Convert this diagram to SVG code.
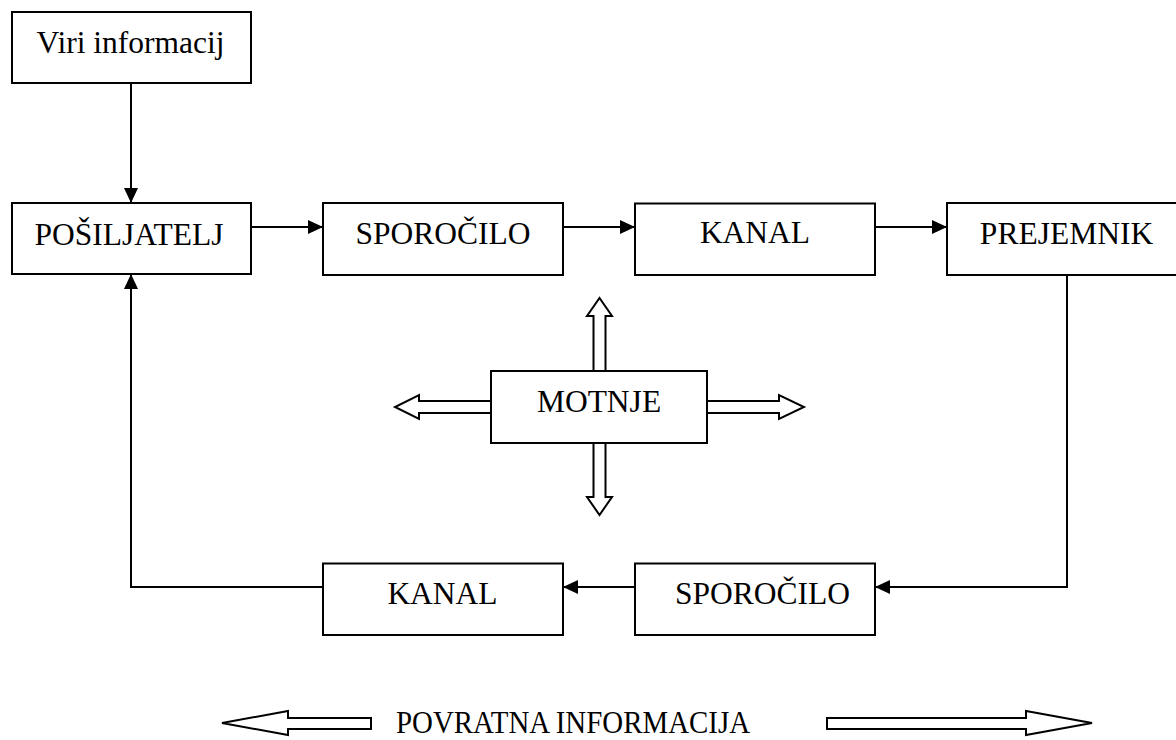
<svg xmlns="http://www.w3.org/2000/svg" width="1176" height="740" viewBox="0 0 1176 740">
<defs>
<marker id="ah" markerUnits="userSpaceOnUse" markerWidth="15" markerHeight="14" refX="15" refY="7" orient="auto">
<path d="M0,0 L15,7 L0,14 z" fill="#000"/>
</marker>
<style>
.box{fill:#fff;stroke:#000;stroke-width:2}
.lbl{font-family:"Liberation Serif","Times New Roman",serif;font-size:31.5px;fill:#000;text-anchor:middle}
.con{fill:none;stroke:#000;stroke-width:2}
.open{fill:#fff;stroke:#000;stroke-width:2;stroke-linejoin:miter}
</style>
</defs>
<rect width="1176" height="740" fill="#fff"/>
<g id="connectors">
<line class="con" x1="131" y1="83" x2="131" y2="203" marker-end="url(#ah)"/>
<line class="con" x1="251" y1="227" x2="323" y2="227" marker-end="url(#ah)"/>
<line class="con" x1="563" y1="227" x2="635" y2="227" marker-end="url(#ah)"/>
<line class="con" x1="875" y1="227" x2="947" y2="227" marker-end="url(#ah)"/>
<path class="con" d="M1067 275 V587 H875" marker-end="url(#ah)"/>
<line class="con" x1="635" y1="587" x2="563" y2="587" marker-end="url(#ah)"/>
<path class="con" d="M323 587 H131 V274" marker-end="url(#ah)"/>
</g>
<g id="motnje-arrows">
<polygon class="open" points="593.5,371 593.5,316 587,316 599.5,298 612,316 605.5,316 605.5,371"/>
<polygon class="open" points="593.5,443 593.5,497 587,497 599.5,515 612,497 605.5,497 605.5,443"/>
<polygon class="open" points="491,401 419,401 419,395 395,407 419,419 419,413 491,413"/>
<polygon class="open" points="707,401 779,401 779,395 804,407 779,419 779,413 707,413"/>
</g>
<g id="viri"><rect class="box" x="12" y="12" width="239" height="71"/><text class="lbl" x="130.5" y="53">Viri informacij</text></g>
<g id="posiljatelj"><rect class="box" x="12" y="203" width="239" height="71"/><text class="lbl" x="129" y="245">POŠILJATELJ</text></g>
<g id="sporocilo1"><rect class="box" x="323" y="203" width="240" height="72"/><text class="lbl" x="443" y="244">SPOROČILO</text></g>
<g id="kanal1"><rect class="box" x="635" y="203.5" width="240" height="71.5"/><text class="lbl" x="755" y="243">KANAL</text></g>
<g id="prejemnik"><rect class="box" x="947" y="203" width="260" height="72"/><text class="lbl" x="1066.5" y="244">PREJEMNIK</text></g>
<g id="motnje"><rect class="box" x="491" y="371" width="216" height="72"/><text class="lbl" x="599" y="412">MOTNJE</text></g>
<g id="kanal2"><rect class="box" x="323" y="563.5" width="240" height="71.5"/><text class="lbl" x="442.5" y="604">KANAL</text></g>
<g id="sporocilo2"><rect class="box" x="635" y="563.5" width="240" height="71.5"/><text class="lbl" x="762.5" y="604">SPOROČILO</text></g>
<g id="povratna">
<polygon class="open" points="371,718 288,718 288,711 222,723 288,735 288,729 371,729 371,718"/>
<polygon class="open" points="827,718 1026,718 1026,711 1092,723 1026,735 1026,729 827,729 827,718"/>
<text class="lbl" style="text-anchor:start" x="396" y="733" textLength="354" lengthAdjust="spacingAndGlyphs">POVRATNA INFORMACIJA</text>
</g>
</svg>
